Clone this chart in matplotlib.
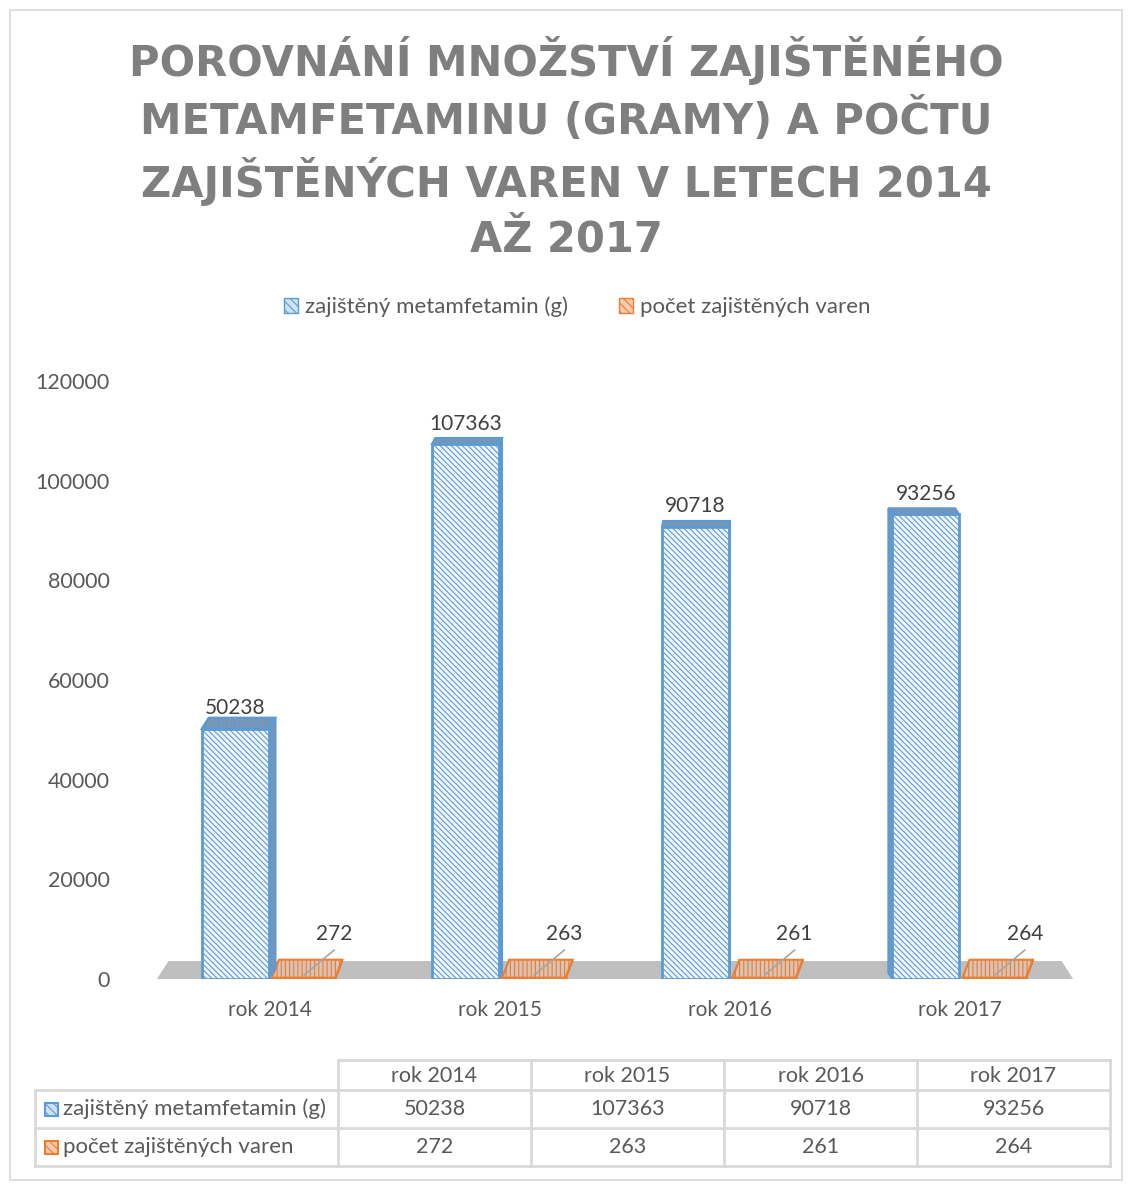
import matplotlib
matplotlib.use("Agg")
from matplotlib import pyplot as plt
from matplotlib.patches import Rectangle, Polygon, Patch
import numpy as np

plt.rcParams["font.family"] = ["Lato", "DejaVu Sans"]
plt.rcParams["hatch.linewidth"] = 0.8

title = "POROVNÁNÍ MNOŽSTVÍ ZAJIŠTĚNÉHO\nMETAMFETAMINU (GRAMY) A POČTU\nZAJIŠTĚNÝCH VAREN V LETECH 2014\nAŽ 2017"
categories = ["rok 2014", "rok 2015", "rok 2016", "rok 2017"]
series_names = ["zajištěný metamfetamin (g)", "počet zajištěných varen"]
meth = [50238, 107363, 90718, 93256]
labs = [272, 263, 261, 264]
yticks = [0, 20000, 40000, 60000, 80000, 100000, 120000]

W, H = 1132, 1189
fig = plt.figure(figsize=(W / 100, H / 100), dpi=100)

def fx(px):
    return px / W

def fy(py):
    return 1 - py / H

# outer chart border
fig.patches.append(Rectangle((fx(10), fy(1180)), fx(1112), 1170 / H, transform=fig.transFigure,
                             fill=False, edgecolor="#d9d9d9", linewidth=1.2))

fig.text(0.5, fy(148), title, ha="center", va="center", fontsize=30, fontweight="bold",
         color="#7f7f7f", family="DejaVu Sans", linespacing=1.36)

ax = fig.add_axes([fx(150), fy(979), 930 / W, 598 / H])
ax.set_xlim(-0.52, 3.52)
ax.set_ylim(0, 120000)
for s in ax.spines.values():
    s.set_visible(False)
ax.set_yticks(yticks)
ax.set_yticklabels([str(v) for v in yticks])
ax.tick_params(axis="y", length=0, labelsize=15.5, labelcolor="#595959", pad=29)
ax.set_xticks(np.arange(len(categories)))
ax.set_xticklabels(categories)
ax.tick_params(axis="x", length=0, labelsize=15, labelcolor="#595959", pad=15)

x = np.arange(len(categories))

# grey floor
floor = Polygon([(-0.49, 0), (3.49, 0), (3.44, 3600), (-0.44, 3600)], closed=True,
                facecolor="#bfbfbf", edgecolor="none", zorder=1)
ax.add_patch(floor)

blue_edge = "#5b9bd5"
orange_edge = "#ed7d31"
hatch_b = "\\" * 6

def box(left, width, h, dx, dy, face, side, edge, hatch, z):
    # front face
    ax.bar(left, h, width=width, align="edge", facecolor=face, edgecolor=edge,
           hatch=hatch, linewidth=2, zorder=z)
    # top face
    top = Polygon([(left, h), (left + width, h), (left + width + dx, h + dy), (left + dx, h + dy)],
                  closed=True, facecolor=side, edgecolor=edge, hatch="||||", linewidth=1.5, zorder=z)
    ax.add_patch(top)
    # side face
    ex = left + width if dx > 0 else left
    sidep = Polygon([(ex, 0), (ex, h), (ex + dx, h + dy), (ex + dx, dy)],
                    closed=True, facecolor=side, edgecolor=edge, hatch=hatch, linewidth=1.5, zorder=z - 0.5)
    ax.add_patch(sidep)

for i in range(len(categories)):
    dx = 0.03 * (1.9 - i) / 1.9
    if abs(dx) < 0.004:
        dx = 0.004
    dy = 2200 if i == 0 else 1200
    box(x[i] - 0.295, 0.29, meth[i], dx, dy, "#f2f7fd", "#7f95ad", blue_edge, hatch_b, 3)
    box(x[i] + 0.01, 0.275, labs[i], 0.03, 3600, "#d8c4b6", "#d8c4b6", orange_edge, "\\" * 4, 2)

    ax.text(x[i] - 0.15, meth[i] + 2100, str(meth[i]), ha="center", va="bottom",
            fontsize=15, color="#404040", zorder=5)
    ax.plot([x[i] + 0.28, x[i] + 0.15], [5800, 800], color="#a6a6a6", linewidth=1.2, zorder=4)
    ax.text(x[i] + 0.28, 7000, str(labs[i]), ha="center", va="bottom", fontsize=15,
            color="#404040", zorder=5)

handles = [Patch(facecolor="#cfe2f3", edgecolor=blue_edge, hatch="\\\\\\\\", label=series_names[0]),
           Patch(facecolor="#f8cbad", edgecolor=orange_edge, hatch="\\\\\\\\", label=series_names[1])]
fig.legend(handles=handles, loc="center", bbox_to_anchor=(fx(577), fy(307)), ncol=2, frameon=False,
           fontsize=16, labelcolor="#595959", handlelength=0.65, handleheight=0.65, handletextpad=0.3,
           columnspacing=2.3)

# data table
tax = fig.add_axes([0, fy(1180), 1, 130 / H])
tax.set_xlim(0, W)
tax.set_ylim(1180, 1050)
tax.axis("off")
grid = "#d9d9d9"
col_x = [35, 338, 531, 724, 917, 1110]
row_y = [1060, 1090, 1128, 1166]
tax.plot([col_x[1], col_x[-1]], [row_y[0]] * 2, color=grid, lw=2)
for yy in row_y[1:]:
    tax.plot([col_x[0], col_x[-1]], [yy] * 2, color=grid, lw=2)
tax.plot([col_x[0]] * 2, [row_y[1], row_y[-1]], color=grid, lw=2)
for xx in col_x[1:]:
    tax.plot([xx] * 2, [row_y[0], row_y[-1]], color=grid, lw=2)
for j, c in enumerate(categories):
    cx = (col_x[j + 1] + col_x[j + 2]) / 2
    tax.text(cx, (row_y[0] + row_y[1]) / 2 + 1, c, ha="center", va="center", fontsize=15.5, color="#595959")
    tax.text(cx, (row_y[1] + row_y[2]) / 2, str(meth[j]), ha="center", va="center", fontsize=15.5, color="#595959")
    tax.text(cx, (row_y[2] + row_y[3]) / 2, str(labs[j]), ha="center", va="center", fontsize=15.5, color="#595959")
for k, (name, fc, ec) in enumerate([(series_names[0], "#cfe2f3", blue_edge), (series_names[1], "#f8cbad", orange_edge)]):
    cy = (row_y[k + 1] + row_y[k + 2]) / 2
    tax.add_patch(Rectangle((45, cy - 6), 13, 13, facecolor=fc, edgecolor=ec, hatch="\\\\\\\\", lw=1.5))
    tax.text(63, cy, name, ha="left", va="center", fontsize=16, color="#595959")

plt.savefig("out.png", dpi=100)
plt.close(fig)
